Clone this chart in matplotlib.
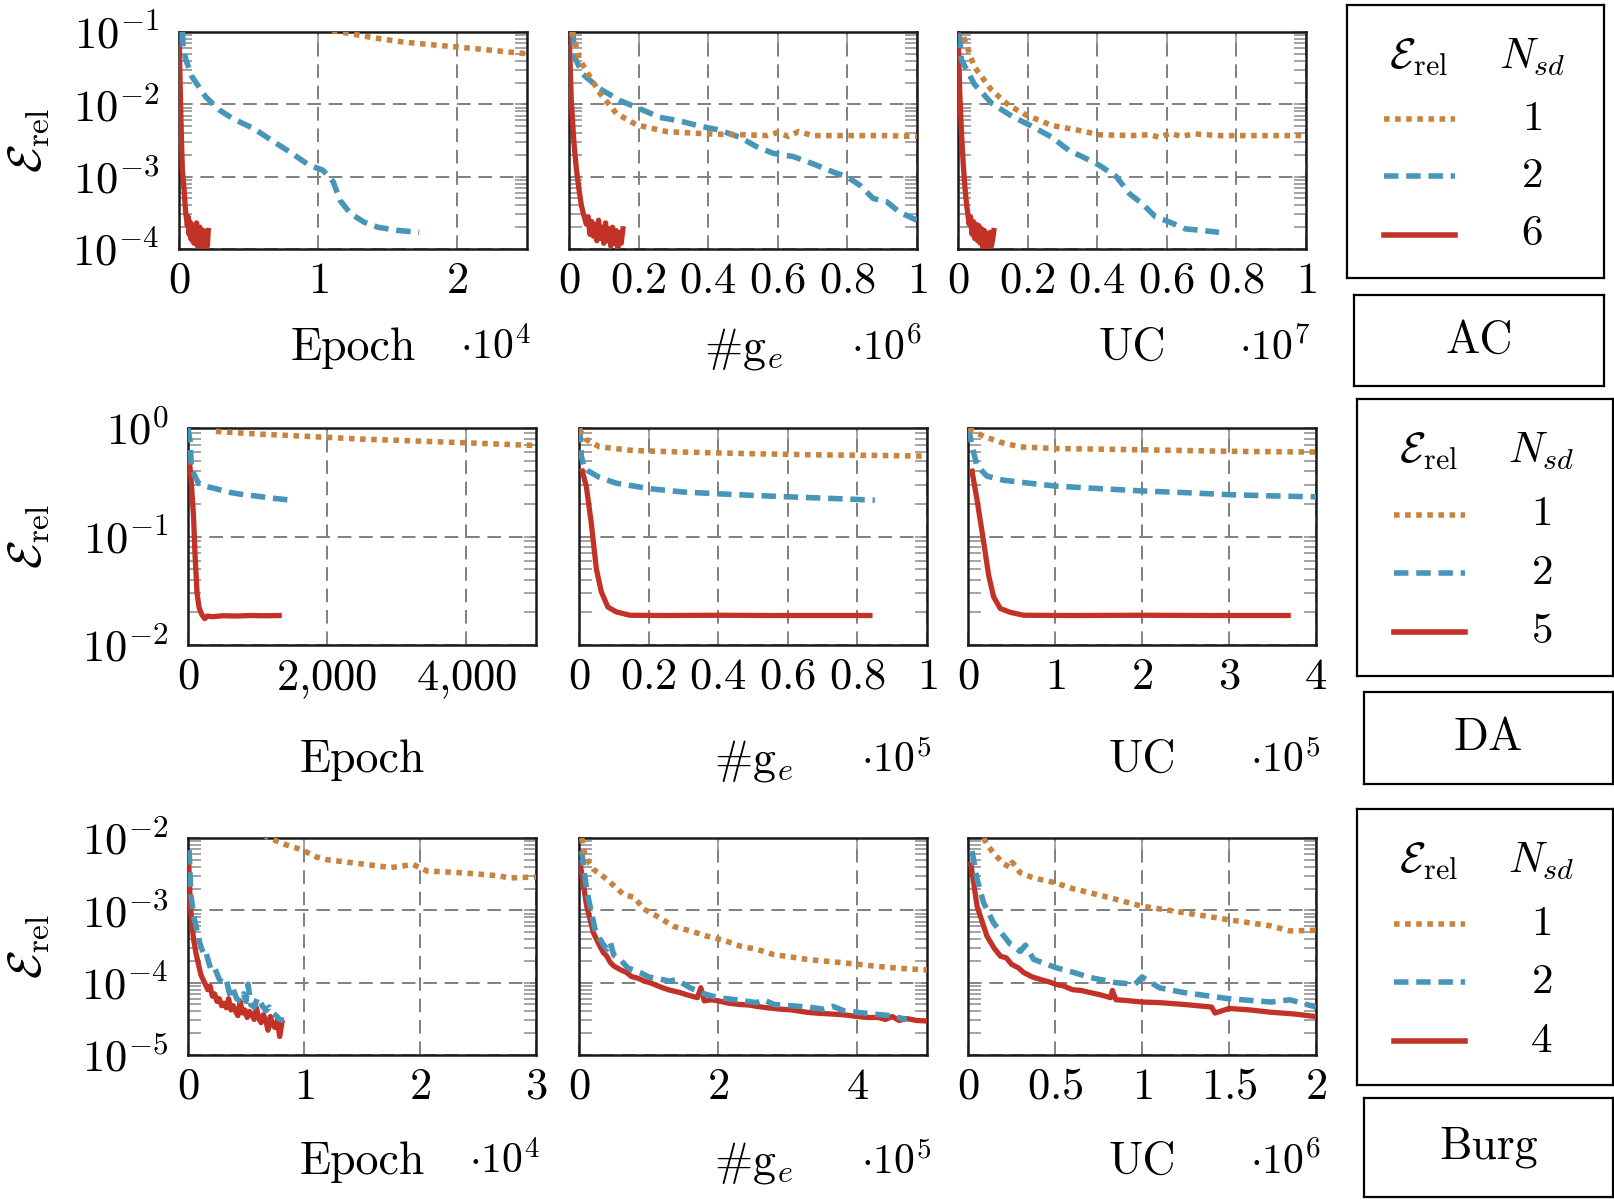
import math
import matplotlib
matplotlib.use("Agg")
import matplotlib.pyplot as plt
from matplotlib.ticker import FixedLocator, FuncFormatter, LogLocator, NullFormatter

plt.rcParams["mathtext.fontset"] = "cm"
plt.rcParams["font.family"] = "serif"
plt.rcParams["font.serif"] = ["cmr10", "DejaVu Serif"]
plt.rcParams["axes.formatter.use_mathtext"] = True

# ---------------- data ----------------
# AC problem, N_sd = 1, 2, 6
ac_epoch_x1 = [11000, 12000, 14000, 16000, 18000, 20000, 22000, 25000]
ac_epoch_y1 = [0.105, 0.097, 0.083, 0.073, 0.067, 0.062, 0.057, 0.050]
ac_epoch_x2 = [250, 300, 500, 940, 1930, 2920, 3900, 5390, 6630, 8110, 9350, 10330, 11080, 11570,
               12310, 13300, 14290, 15780, 17260]
ac_epoch_y2 = [0.1, 0.06, 0.041, 0.024, 0.0126, 0.0083, 0.0063, 0.0046, 0.0032, 0.0021, 0.00144,
               0.00123, 0.00085, 0.00047, 0.00031, 0.000235, 0.0002, 0.00018, 0.00017]
ac_epoch_x6 = [0, 60, 120, 180, 240, 300, 360, 420, 480, 540, 600, 660, 720, 780, 840, 900, 960,
               1020, 1080, 1140, 1200, 1260, 1320, 1380, 1440, 1500, 1560, 1620, 1680, 1740, 1800,
               1860, 1920, 1980, 2040, 2100]
ac_epoch_y6 = [0.1, 0.03, 0.009, 0.003, 0.0013, 0.0009, 0.0007, 0.00045, 0.00032, 0.00026,
               0.00021, 0.00028, 0.00016, 0.00024, 0.00014, 0.00022, 0.00013, 0.00021, 0.00012,
               0.00019, 0.00013, 0.00023, 0.00011, 0.00018, 0.00012, 0.0002, 0.00011, 0.00017,
               0.0001, 0.00018, 0.000095, 0.00016, 0.00009, 0.00014, 0.00011, 0.00018]

ac_ge_x1 = [5000, 12000, 30000, 60000, 90000, 136000, 194000, 280000, 400000, 500000, 570000,
            600000, 630000, 660000, 700000, 800000, 900000, 1000000]
ac_ge_y1 = [0.1, 0.09, 0.042, 0.024, 0.014, 0.0075, 0.0052, 0.0042, 0.0039, 0.0038, 0.0037,
            0.0041, 0.0036, 0.0042, 0.0037, 0.0037, 0.0037, 0.0036]
ac_ge_x2 = [11500, 16000, 40000, 88000, 146000, 203000, 261000, 318000, 376000, 433000, 491000,
            539000, 587000, 644000, 702000, 759000, 798000, 836000, 874000, 913000, 951000, 1000000]
ac_ge_y2 = [0.1, 0.045, 0.026, 0.0165, 0.0113, 0.0087, 0.0066, 0.0059, 0.005, 0.0044, 0.0035,
            0.0026, 0.0021, 0.0019, 0.0015, 0.00116, 0.001, 0.00076, 0.0005, 0.00045, 0.00032, 0.00025]
ac_ge_x6 = [0, 6700, 14000, 21000, 28000, 35500, 42000, 50000, 55000, 60000, 65000, 70000, 75000,
            80000, 85000, 90000, 95000, 100000, 105000, 110000, 115000, 120000, 125000, 130000,
            135000, 140000, 145000, 150000, 155000]
ac_ge_y6 = [0.1, 0.011, 0.003, 0.0013, 0.0007, 0.0004, 0.0003, 0.00022, 0.00028, 0.00016,
            0.00024, 0.00015, 0.00022, 0.00013, 0.00025, 0.00014, 0.0002, 0.00012, 0.00023,
            0.00013, 0.00019, 0.00011, 0.0002, 0.00012, 0.00018, 0.0001, 0.00017, 0.00012, 0.00019]

ac_uc_x1 = [160000, 470000, 970000, 1460000, 1960000, 2700000, 3440000, 4060000, 5000000,
            5500000, 5800000, 6100000, 6400000, 6800000, 7500000, 8500000, 10000000]
ac_uc_y1 = [0.085, 0.033, 0.0156, 0.0097, 0.0071, 0.0051, 0.0044, 0.0038, 0.0037, 0.0038,
            0.0035, 0.004, 0.0036, 0.0039, 0.0037, 0.0037, 0.0037]
ac_uc_x2 = [40000, 100000, 470000, 970000, 1580000, 2080000, 2700000, 3190000, 3560000, 4060000,
            4550000, 4930000, 5300000, 5670000, 6040000, 6530000, 7030000, 7500000]
ac_uc_y2 = [0.095, 0.041, 0.019, 0.0103, 0.0067, 0.0051, 0.0035, 0.0023, 0.0019, 0.00144, 0.001,
            0.00058, 0.00042, 0.00028, 0.00024, 0.00019, 0.00018, 0.00017]
ac_uc_x6 = [0, 50000, 100000, 150000, 200000, 250000, 285000, 320000, 360000, 400000, 440000,
            480000, 520000, 560000, 600000, 640000, 680000, 720000, 760000, 800000, 840000,
            880000, 920000, 960000, 1000000, 1030000]
ac_uc_y6 = [0.1, 0.015, 0.004, 0.0015, 0.0007, 0.0004, 0.0003, 0.00022, 0.00028, 0.00016,
            0.00024, 0.00014, 0.00022, 0.00013, 0.00021, 0.00012, 0.00019, 0.0001, 0.00018,
            0.00009, 0.00016, 0.000095, 0.00017, 0.00011, 0.00014, 0.00018]

# DA problem, N_sd = 1, 2, 5
da_epoch_x1 = [400, 1000, 1500, 2000, 2500, 3000, 3500, 4000, 4500, 5000]
da_epoch_y1 = [0.93, 0.88, 0.85, 0.82, 0.79, 0.77, 0.75, 0.73, 0.71, 0.69]
da_epoch_x2 = [0, 30, 50, 100, 150, 250, 360, 500, 615, 800, 975, 1200, 1490]
da_epoch_y2 = [1.0, 0.75, 0.42, 0.36, 0.31, 0.29, 0.28, 0.265, 0.254, 0.243, 0.236, 0.226, 0.216]
da_epoch_x5 = [20, 50, 80, 100, 130, 160, 200, 240, 280, 350, 500, 700, 900, 1100, 1310]
da_epoch_y5 = [0.5, 0.3, 0.15, 0.07, 0.03, 0.022, 0.019, 0.0175, 0.0185, 0.0182, 0.0186,
               0.0185, 0.0187, 0.0186, 0.0187]

da_ge_x1 = [0, 2100, 5900, 15500, 30000, 49000, 68000, 87400, 100000]
da_ge_y1 = [0.97, 0.78, 0.67, 0.62, 0.60, 0.58, 0.566, 0.558, 0.55]
da_ge_x2 = [200, 670, 1600, 5900, 10700, 20300, 30000, 39500, 49000, 58700, 68300, 77900, 85000]
da_ge_y2 = [1.0, 0.55, 0.42, 0.35, 0.31, 0.276, 0.257, 0.248, 0.24, 0.233, 0.227, 0.221, 0.216]
da_ge_x5 = [960, 2100, 3500, 5000, 6400, 8300, 10700, 14600, 25000, 40000, 55000, 70000, 83600]
da_ge_y5 = [0.40, 0.29, 0.135, 0.05, 0.031, 0.0224, 0.0202, 0.0188, 0.0187, 0.0188, 0.0187,
            0.0187, 0.0187]

da_uc_x1 = [500, 18000, 37000, 60000, 100000, 200000, 300000, 400000]
da_uc_y1 = [0.98, 0.84, 0.74, 0.67, 0.647, 0.63, 0.61, 0.60]
da_uc_x2 = [500, 4600, 10300, 21800, 41000, 75000, 100000, 152000, 200000, 248000, 300000,
            347000, 400000]
da_uc_y2 = [1.0, 0.68, 0.45, 0.36, 0.33, 0.307, 0.292, 0.276, 0.263, 0.254, 0.243, 0.237, 0.232]
da_uc_x5 = [4600, 10300, 18000, 23700, 29500, 37100, 48600, 64000, 120000, 200000, 280000, 368000]
da_uc_y5 = [0.40, 0.22, 0.089, 0.044, 0.0277, 0.0217, 0.02, 0.0188, 0.0187, 0.0188, 0.0187, 0.0187]

# Burg problem, N_sd = 1, 2, 4
bu_epoch_x1 = [6500, 7000, 8500, 9800, 11000, 12000, 14400, 17500, 19400, 20600, 23700, 26800,
               27700, 30000]
bu_epoch_y1 = [0.011, 0.0100, 0.0080, 0.0069, 0.0055, 0.0050, 0.0045, 0.0039, 0.0043, 0.0035,
               0.0033, 0.0030, 0.0028, 0.0029]
bu_epoch_x2 = [100, 150, 250, 400, 555, 800, 1020, 1300, 1500, 1790, 2000, 2300, 2710, 3000,
               3300, 3640, 3900, 4200, 4560, 4800, 5000, 5180, 5400, 5700, 6000, 6410, 6700, 7000,
               7300, 7600, 7900, 8260]
bu_epoch_y2 = [0.0068, 0.004, 0.0016, 0.0011, 0.00075, 0.0005, 0.00035, 0.00026, 0.00028,
               0.00019, 0.00015, 0.00016, 0.00011, 0.0001, 0.00011, 0.000065, 0.00008, 0.00006,
               0.000055, 0.00007, 0.000055, 0.000095, 0.00005, 0.000046, 0.000062, 0.000048,
               0.000041, 0.000046, 0.000038, 0.000035, 0.000031, 0.00003]
bu_epoch_x4 = [50, 120, 200, 350, 500, 700, 900, 1100, 1300, 1500, 1700, 1900, 2100, 2300, 2500,
               2700, 2900, 3100, 3300, 3500, 3700, 3900, 4100, 4300, 4500, 4700, 4900, 5100, 5300,
               5500, 5700, 5900, 6100, 6300, 6500, 6700, 6900, 7100, 7300, 7500, 7700, 7900, 8100]
bu_epoch_y4 = [0.005, 0.0025, 0.0012, 0.0006, 0.00038, 0.00025, 0.00018, 0.00013, 0.00011,
               0.000095, 0.00008, 0.00009, 0.000065, 0.00007, 0.000055, 0.00006, 0.000048,
               0.000052, 0.000045, 0.00006, 0.000042, 0.000048, 0.00004, 0.000035, 0.000055,
               0.000038, 0.000042, 0.000033, 0.00004, 0.000036, 0.000031, 0.000045, 0.000032,
               0.000028, 0.000036, 0.00003, 0.000022, 0.000034, 0.000026, 0.000024, 0.00003,
               0.000018, 0.000028]

bu_ge_x1 = [3800, 8600, 20600, 39800, 63800, 80000, 92500, 115000, 135700, 160000, 183600,
            210000, 231500, 255000, 279500, 300000, 327400, 350000, 375300, 400000, 423300,
            460000, 500000]
bu_ge_y1 = [0.01, 0.0056, 0.0037, 0.0027, 0.00166, 0.0015, 0.00105, 0.0008, 0.0006, 0.00052,
            0.00044, 0.00038, 0.00032, 0.00029, 0.000245, 0.00023, 0.00021, 0.0002, 0.00019,
            0.00018, 0.00017, 0.000158, 0.00015]
bu_ge_x2 = [3800, 11000, 23000, 30000, 39800, 45000, 50000, 59000, 70000, 87700, 100000, 116500,
            130000, 140000, 159600, 180000, 200000, 225000, 255000, 265000, 280000, 303000,
            330000, 351000, 365000, 380000, 399000, 420000, 447000, 471000]
bu_ge_y2 = [0.0066, 0.0019, 0.00055, 0.0004, 0.00029, 0.00036, 0.00024, 0.00021, 0.00016,
            0.000138, 0.00012, 0.000112, 0.000105, 0.00011, 0.000085, 0.00007, 0.000062,
            0.000058, 0.000053, 0.000058, 0.00005, 0.000048, 0.000046, 0.000043, 0.000047,
            0.000041, 0.000039, 0.000037, 0.000035, 0.000031]
bu_ge_x4 = [1400, 11000, 20600, 30000, 35000, 39800, 45000, 50000, 60000, 68600, 75000, 85000,
            95000, 102000, 110000, 120000, 130000, 145000, 155000, 170000, 175000, 180000,
            190000, 200000, 215000, 230000, 245000, 255000, 270000, 290000, 305000, 327000,
            340000, 360000, 380000, 400000, 415000, 430000, 440000, 450000, 460000, 470000,
            485000, 500000]
bu_ge_y4 = [0.0046, 0.00115, 0.00049, 0.00032, 0.00026, 0.000234, 0.00019, 0.00017, 0.00015,
            0.000138, 0.000122, 0.000115, 0.000104, 0.0001, 0.000093, 0.000085, 0.000079,
            0.000073, 0.000068, 0.000062, 0.000085, 0.000056, 0.000058, 0.000056, 0.000052,
            0.00005, 0.000049, 0.000047, 0.000045, 0.000043, 0.000042, 0.000039, 0.000038,
            0.000037, 0.000036, 0.000034, 0.000033, 0.000033, 0.000031, 0.000034, 0.00003,
            0.000032, 0.00003, 0.0000295]

bu_uc_x1 = [90000, 105000, 120000, 147000, 200000, 243000, 255000, 300000, 377000, 503000,
            600000, 702000, 855000, 1000000, 1240000, 1500000, 1740000, 1850000, 2000000]
bu_uc_y1 = [0.01, 0.0085, 0.0075, 0.0062, 0.0045, 0.0039, 0.0046, 0.0033, 0.0028, 0.0024, 0.002,
            0.00175, 0.00141, 0.00114, 0.00093, 0.00074, 0.00061, 0.00052, 0.00053]
bu_uc_x2 = [23000, 52000, 90000, 147000, 243000, 300000, 330000, 377000, 503000, 600000, 702000,
            850000, 960000, 1000000, 1100000, 1240000, 1500000, 1740000, 1850000, 2000000]
bu_uc_y2 = [0.0066, 0.0027, 0.00127, 0.00067, 0.00034, 0.00027, 0.00033, 0.00021, 0.000162,
            0.00014, 0.000118, 0.0001, 0.000095, 0.00012, 0.000085, 0.000073, 0.00006, 0.000054,
            0.000058, 0.000046]
bu_uc_x4 = [17000, 52000, 109000, 150000, 186000, 220000, 250000, 290000, 320000, 370000,
            420000, 470000, 503000, 550000, 600000, 650000, 702000, 760000, 820000, 830000,
            850000, 900000, 1000000, 1100000, 1240000, 1320000, 1400000, 1420000, 1500000,
            1620000, 1740000, 1870000, 2000000]
bu_uc_y4 = [0.0043, 0.00114, 0.00044, 0.0003, 0.000233, 0.00022, 0.00018, 0.00016, 0.000138,
            0.00012, 0.00011, 0.000102, 0.000095, 0.00009, 0.00008, 0.000078, 0.000073, 0.000068,
            0.000062, 0.000078, 0.000058, 0.000057, 0.000054, 0.000053, 0.00005, 0.000048,
            0.000046, 0.000038, 0.000044, 0.000042, 0.000039, 0.000037, 0.000034]

row_names = ["AC", "DA", "Burg"]
row_nsd = [[1, 2, 6], [1, 2, 5], [1, 2, 4]]
row_series = [
    [(ac_epoch_x1, ac_epoch_y1, ac_epoch_x2, ac_epoch_y2, ac_epoch_x6, ac_epoch_y6),
     (ac_ge_x1, ac_ge_y1, ac_ge_x2, ac_ge_y2, ac_ge_x6, ac_ge_y6),
     (ac_uc_x1, ac_uc_y1, ac_uc_x2, ac_uc_y2, ac_uc_x6, ac_uc_y6)],
    [(da_epoch_x1, da_epoch_y1, da_epoch_x2, da_epoch_y2, da_epoch_x5, da_epoch_y5),
     (da_ge_x1, da_ge_y1, da_ge_x2, da_ge_y2, da_ge_x5, da_ge_y5),
     (da_uc_x1, da_uc_y1, da_uc_x2, da_uc_y2, da_uc_x5, da_uc_y5)],
    [(bu_epoch_x1, bu_epoch_y1, bu_epoch_x2, bu_epoch_y2, bu_epoch_x4, bu_epoch_y4),
     (bu_ge_x1, bu_ge_y1, bu_ge_x2, bu_ge_y2, bu_ge_x4, bu_ge_y4),
     (bu_uc_x1, bu_uc_y1, bu_uc_x2, bu_uc_y2, bu_uc_x4, bu_uc_y4)],
]
xlabels = ["Epoch", r"$\#\mathrm{g}_e$", "UC"]
row_ylims = [(1e-4, 1e-1), (1e-2, 1e0), (1e-5, 1e-2)]
row_xmax = [[2.5e4, 1e6, 1e7], [5000, 1e5, 4e5], [3e4, 5e5, 2e6]]
row_xticks = [[[0, 1e4, 2e4], [0, 2e5, 4e5, 6e5, 8e5, 1e6], [0, 2e6, 4e6, 6e6, 8e6, 1e7]],
              [[0, 2000, 4000], [0, 2e4, 4e4, 6e4, 8e4, 1e5], [0, 1e5, 2e5, 3e5, 4e5]],
              [[0, 1e4, 2e4, 3e4], [0, 2e5, 4e5], [0, 5e5, 1e6, 1.5e6, 2e6]]]
row_scale = [[4, 6, 7], [0, 5, 5], [4, 5, 6]]

# ---------------- style / layout ----------------
c1, c2, c3 = "#C8843E", "#4796B9", "#C23227"
W_PX, H_PX = 1615, 1200
AX_W, AX_H = 348, 217
row_top = [32, 428, 838]
row_left = [[179, 569, 958], [188, 579, 968], [188, 579, 968]]
row_lab_base = [360, 772, 1174]
leg_boxes = [(1347, 5, 1604, 278), (1357, 399, 1613, 676), (1357, 809, 1613, 1085)]
name_boxes = [(1354, 295, 1604, 386), (1364, 692, 1613, 784), (1364, 1098, 1613, 1197)]

TICK_FS = 32
LAB_FS = 33
LW = 4.0
DOT = (0, (1, 1))
DASH = (0, (2.6, 1.4))

fig = plt.figure(figsize=(W_PX / 100, H_PX / 100), dpi=100)


def rect(l, t, w, h):
    return [l / W_PX, 1 - (t + h) / H_PX, w / W_PX, h / H_PX]


for r in range(3):
    for c in range(3):
        l = row_left[r][c]
        t = row_top[r]
        ax = fig.add_axes(rect(l, t, AX_W, AX_H))
        x1, y1, x2, y2, x3, y3 = row_series[r][c]
        ax.plot(x3, y3, color=c3, lw=3.8, zorder=3)
        ax.plot(x2, y2, color=c2, lw=LW, linestyle=DASH, zorder=4)
        ax.plot(x1, y1, color=c1, lw=LW, linestyle=DOT, zorder=5)
        ax.set_yscale("log")
        ax.set_ylim(*row_ylims[r])
        ax.set_xlim(0, row_xmax[r][c])
        ax.xaxis.set_major_locator(FixedLocator(row_xticks[r][c]))
        s = 10 ** row_scale[r][c]
        if r == 1 and c == 0:
            fmt = FuncFormatter(lambda v, p: "$0$" if v == 0 else r"$%d{,}%03d$" % (v // 1000, v % 1000))
        else:
            fmt = FuncFormatter(lambda v, p, s=s: "$%g$" % round(v / s, 6))
        ax.xaxis.set_major_formatter(fmt)
        ax.yaxis.set_major_locator(LogLocator(base=10, numticks=10))
        ax.yaxis.set_minor_locator(LogLocator(base=10, subs=range(2, 10), numticks=10))
        ax.yaxis.set_minor_formatter(NullFormatter())
        if c == 0:
            ax.yaxis.set_major_formatter(FuncFormatter(lambda v, p: r"$10^{%d}$" % round(math.log10(v))))
        else:
            ax.yaxis.set_major_formatter(NullFormatter())
        ax.grid(True, which="major", color="#7f7f7f", lw=1.4, linestyle=(0, (7, 4)))
        ax.tick_params(which="both", direction="in", top=True, right=True, color="#8a8a8a",
                       width=1.1, length=9)
        ax.tick_params(axis="x", labelsize=TICK_FS, pad=9)
        ax.tick_params(axis="y", labelsize=TICK_FS, pad=14)
        for sp in ax.spines.values():
            sp.set_linewidth(1.8)
            sp.set_color("#1a1a1a")

        cx = (l + AX_W / 2) / W_PX
        by = 1 - row_lab_base[r] / H_PX
        fig.text(cx, by, xlabels[c], fontsize=LAB_FS, ha="center", va="baseline")
        if row_scale[r][c]:
            fig.text((l + AX_W + 4) / W_PX, by, r"$\cdot 10^{%d}$" % row_scale[r][c],
                     fontsize=TICK_FS - 2, ha="right", va="baseline")
        if c == 0:
            fig.text(29 / W_PX, 1 - (t + AX_H / 2) / H_PX, r"$\mathcal{E}_{\mathrm{rel}}$",
                     fontsize=34, rotation=90, ha="center", va="center")

# legend boxes
for r in range(3):
    x0, y0, x1b, y1b = leg_boxes[r]
    lax = fig.add_axes(rect(x0, y0, x1b - x0, y1b - y0))
    lax.set_xlim(0, 1)
    lax.set_ylim(1, 0)
    lax.set_xticks([])
    lax.set_yticks([])
    for sp in lax.spines.values():
        sp.set_linewidth(1.6)
    lax.text(0.28, 0.19, r"$\mathcal{E}_{\mathrm{rel}}$", fontsize=31, ha="center", va="center")
    lax.text(0.72, 0.19, r"$N_{sd}$", fontsize=31, ha="center", va="center")
    styles = [(c1, DOT), (c2, DASH), (c3, "-")]
    for k, yy in enumerate([0.417, 0.628, 0.841]):
        col, ls = styles[k]
        lax.plot([0.143, 0.42], [yy, yy], color=col, lw=LW, linestyle=ls)
        lax.text(0.72, yy, "$%d$" % row_nsd[r][k], fontsize=31, ha="center", va="center")

    x0, y0, x1b, y1b = name_boxes[r]
    nax = fig.add_axes(rect(x0, y0, x1b - x0, y1b - y0))
    nax.set_xticks([])
    nax.set_yticks([])
    for sp in nax.spines.values():
        sp.set_linewidth(1.6)
    nax.text(0.5, 0.5, row_names[r], fontsize=LAB_FS, ha="center", va="center",
             transform=nax.transAxes)

fig.savefig("out.png", dpi=100)
